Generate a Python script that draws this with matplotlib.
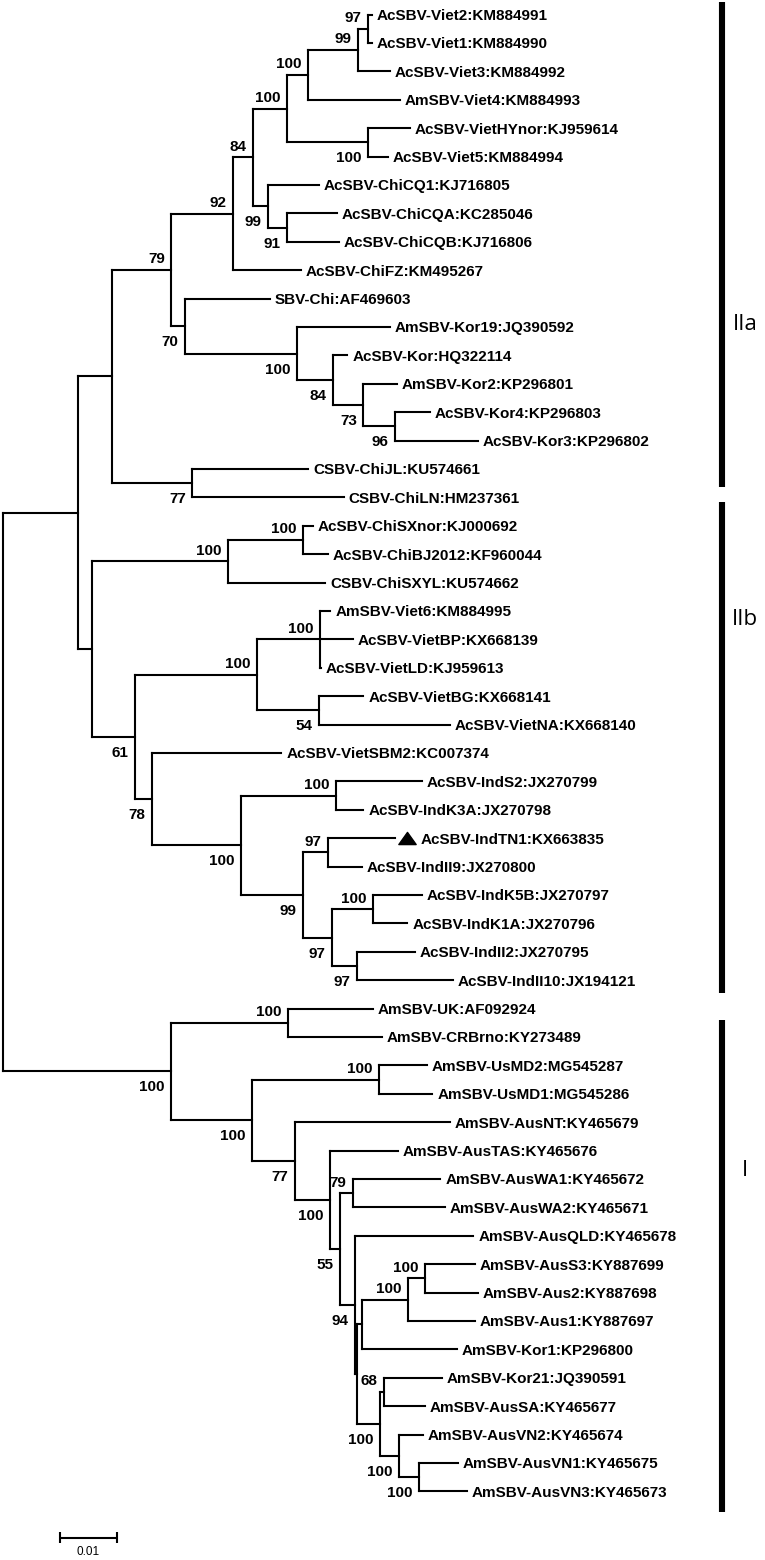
import matplotlib
matplotlib.use("Agg")
import matplotlib.pyplot as plt
from matplotlib.path import Path
from matplotlib.transforms import offset_copy

# ---------------- data ----------------
taxa = [
    "AcSBV-Viet2:KM884991", "AcSBV-Viet1:KM884990", "AcSBV-Viet3:KM884992",
    "AmSBV-Viet4:KM884993", "AcSBV-VietHYnor:KJ959614", "AcSBV-Viet5:KM884994",
    "AcSBV-ChiCQ1:KJ716805", "AcSBV-ChiCQA:KC285046", "AcSBV-ChiCQB:KJ716806",
    "AcSBV-ChiFZ:KM495267", "SBV-Chi:AF469603", "AmSBV-Kor19:JQ390592",
    "AcSBV-Kor:HQ322114", "AmSBV-Kor2:KP296801", "AcSBV-Kor4:KP296803",
    "AcSBV-Kor3:KP296802", "CSBV-ChiJL:KU574661", "CSBV-ChiLN:HM237361",
    "AcSBV-ChiSXnor:KJ000692", "AcSBV-ChiBJ2012:KF960044", "CSBV-ChiSXYL:KU574662",
    "AmSBV-Viet6:KM884995", "AcSBV-VietBP:KX668139", "AcSBV-VietLD:KJ959613",
    "AcSBV-VietBG:KX668141", "AcSBV-VietNA:KX668140", "AcSBV-VietSBM2:KC007374",
    "AcSBV-IndS2:JX270799", "AcSBV-IndK3A:JX270798", "AcSBV-IndTN1:KX663835",
    "AcSBV-IndII9:JX270800", "AcSBV-IndK5B:JX270797", "AcSBV-IndK1A:JX270796",
    "AcSBV-IndII2:JX270795", "AcSBV-IndII10:JX194121", "AmSBV-UK:AF092924",
    "AmSBV-CRBrno:KY273489", "AmSBV-UsMD2:MG545287", "AmSBV-UsMD1:MG545286",
    "AmSBV-AusNT:KY465679", "AmSBV-AusTAS:KY465676", "AmSBV-AusWA1:KY465672",
    "AmSBV-AusWA2:KY465671", "AmSBV-AusQLD:KY465678", "AmSBV-AusS3:KY887699",
    "AmSBV-Aus2:KY887698", "AmSBV-Aus1:KY887697", "AmSBV-Kor1:KP296800",
    "AmSBV-Kor21:JQ390591", "AmSBV-AusSA:KY465677", "AmSBV-AusVN2:KY465674",
    "AmSBV-AusVN1:KY465675", "AmSBV-AusVN3:KY465673",
]

# distance of each tip from the root (substitutions/site)
tip_depth = [
    0.0647, 0.0647, 0.0679, 0.0696, 0.0714, 0.0675, 0.0554, 0.0586, 0.0589,
    0.0523, 0.0468, 0.0679, 0.0604, 0.0691, 0.0749, 0.0833, 0.0535, 0.0598,
    0.0544, 0.0570, 0.0565, 0.0574, 0.0614, 0.0558, 0.0632, 0.0784, 0.0488,
    0.0735, 0.0632, 0.0688, 0.0630, 0.0735, 0.0709, 0.0723, 0.0789, 0.0649,
    0.0665, 0.0744, 0.0753, 0.0784, 0.0693, 0.0767, 0.0775, 0.0825, 0.0828,
    0.0833, 0.0828, 0.0796, 0.0770, 0.0740, 0.0737, 0.0798, 0.0814,
]

# internal nodes: id, children (int = tip index, str = node id), depth, bootstrap
node_ids = [
    "root", "II", "IIa", "n79", "n92", "n84", "n100c", "n100a", "n99", "n97",
    "n100b", "n99b", "n91", "n70", "n100d", "n84b", "n73", "n96", "n77",
    "IIb", "nSX", "nSX2", "n61", "nViet", "nViet6", "n54", "n78", "nInd", "nS2",
    "nInd2", "nTN", "nInd3", "nK5B", "nII2",
    "I", "nUK", "nI2", "nUS", "n77b", "n100e", "n55", "n79b", "n94", "nB",
    "nKor1", "nAus1", "nS3", "n380", "n68", "n399", "n419",
]
node_children = [
    ["II", "I"], ["IIa", "IIb"], ["n79", "n77"], ["n92", "n70"], ["n84", 9],
    ["n100c", "n99b"], ["n100a", "n100b"], ["n99", 3], ["n97", 2], [0, 1],
    [4, 5], [6, "n91"], [7, 8], [10, "n100d"], [11, "n84b"], [12, "n73"],
    [13, "n96"], [14, 15], [16, 17],
    ["nSX", "n61"], ["nSX2", 20], [18, 19], ["nViet", "n78"], ["nViet6", "n54"],
    [21, 22, 23], [24, 25], [26, "nInd"], ["nS2", "nInd2"], [27, 28],
    ["nTN", "nInd3"], [29, 30], ["nK5B", "nII2"], [31, 32], [33, 34],
    ["nUK", "nI2"], [35, 36], ["nUS", "n77b"], [37, 38], [39, "n100e"],
    [40, "n55"], ["n79b", "n94"], [41, 42], [43, "nB"], ["nKor1", "n380"],
    ["nAus1", 47], ["nS3", 46], [44, 45], ["n68", "n399"], [48, 49],
    [50, "n419"], [51, 52],
]
node_depth = [
    0.0, 0.0132, 0.0191, 0.0295, 0.0404, 0.0439, 0.0498, 0.0535, 0.0623, 0.0640,
    0.0640, 0.0465, 0.0498, 0.0319, 0.0516, 0.0579, 0.0632, 0.0688, 0.0332,
    0.0156, 0.0395, 0.0526, 0.0232, 0.0446, 0.0556, 0.0554, 0.0261, 0.0418, 0.0584,
    0.0526, 0.0570, 0.0577, 0.0649, 0.0621,
    0.0295, 0.0500, 0.0437, 0.0660, 0.0512, 0.0574, 0.0591, 0.0614, 0.0618, 0.0621,
    0.0630, 0.0711, 0.0740, 0.0661, 0.0668, 0.0695, 0.0730,
]
node_support = [
    None, None, None, 79, 92, 84, 100, 100, 99, 97,
    100, 99, 91, 70, 100, 84, 73, 96, 77,
    None, 100, 100, 61, 100, 100, 54, 78, 100, 100,
    99, 97, 97, 100, 97,
    100, 100, 100, 100, 77, 100, 55, 79, 94, None,
    None, 100, 100, 100, 68, 100, 100,
]

marked_taxa = ["AcSBV-IndTN1:KX663835"]

clade_labels = ["IIa", "IIb", "I"]
clade_span = [(-0.44, 16.64), (17.17, 34.45), (35.4, 52.73)]
clade_label_row = [10.93, 21.32, 40.7]

scale_length = 0.01
scale_label = "0.01"

# ---------------- drawing ----------------
W, H, DPI = 7.65, 15.6, 100
PX_PER_UNIT = 5700.0      # horizontal pixels per substitution unit
ROOT_PX = 3.0
ROW_PX = 28.4
TOP_PX = 14.5

fig = plt.figure(figsize=(W, H), dpi=DPI)
ax = fig.add_axes([0, 0, 1, 1])
ax.axis("off")
ax.set_xlim(-ROOT_PX / PX_PER_UNIT, (W * DPI - ROOT_PX) / PX_PER_UNIT)
ax.set_ylim((H * DPI - TOP_PX) / ROW_PX, -TOP_PX / ROW_PX)

idx = {n: i for i, n in enumerate(node_ids)}


def ypos(ref):
    if isinstance(ref, int):
        return float(ref)
    ch = node_children[idx[ref]]
    return (ypos(ch[0]) + ypos(ch[-1])) / 2.0


def xpos(ref):
    if isinstance(ref, int):
        return tip_depth[ref]
    return node_depth[idx[ref]]


LW = 1.5
FONT = "Liberation Sans"
kw_line = dict(color="black", lw=LW, solid_capstyle="projecting")

parent_of = {}
for nid, ch in zip(node_ids, node_children):
    for k, c in enumerate(ch):
        parent_of[c] = (nid, k, len(ch))

# branches
for nid, ch in zip(node_ids, node_children):
    x0 = xpos(nid)
    ys = [ypos(c) for c in ch]
    ax.plot([x0, x0], [ys[0], ys[-1]], **kw_line)
    for c, yc in zip(ch, ys):
        ax.plot([x0, xpos(c)], [yc, yc], **kw_line)

# bootstrap values
for nid, sup in zip(node_ids, node_support):
    if sup is None or nid not in parent_of:
        continue
    _, k, n = parent_of[nid]
    upper = (k == 0)
    dy = 4.7 if upper else -14.4
    ax.annotate(str(sup), (xpos(nid), ypos(nid)), xytext=(-4.6, dy),
                textcoords="offset points", ha="right", va="baseline",
                fontsize=11, fontweight="bold", family=FONT)

# tip labels (+ marker)
tri = Path([(-1.0, -0.7), (1.0, -0.7), (0.0, 0.7), (-1.0, -0.7)],
           [Path.MOVETO, Path.LINETO, Path.LINETO, Path.CLOSEPOLY])
marker_tr = offset_copy(ax.transData, fig=fig, x=8.6, y=0, units="points")
for i, name in enumerate(taxa):
    xt = tip_depth[i]
    off = 3.6
    if name in marked_taxa:
        ax.plot([xt], [i], linestyle="none", marker=tri, markersize=12.5,
                color="black", transform=marker_tr)
        off = 18.5
    ax.annotate(name, (xt, i), xytext=(off, -4.0), textcoords="offset points",
                ha="left", va="baseline", fontsize=11, fontweight="bold",
                family=FONT)

# clade bars
BAR_X = 719 / PX_PER_UNIT
LAB_X = 742 / PX_PER_UNIT
for lab, (y0, y1), yl in zip(clade_labels, clade_span, clade_label_row):
    ax.plot([BAR_X, BAR_X], [y0, y1], color="black", lw=4.4,
            solid_capstyle="butt")
    ax.text(LAB_X, yl, lab, ha="center", va="center", fontsize=16,
            family="Open Sans")

# scale bar
SB_X0 = 57 / PX_PER_UNIT
SB_Y = 53.64
ax.plot([SB_X0, SB_X0 + scale_length], [SB_Y, SB_Y], color="black", lw=1.5,
        solid_capstyle="butt")
for xx in (SB_X0, SB_X0 + scale_length):
    ax.plot([xx, xx], [SB_Y - 0.19, SB_Y + 0.19], color="black", lw=1.5,
            solid_capstyle="butt")
ax.text(SB_X0 + scale_length / 2, SB_Y + 0.5, scale_label, ha="center",
        va="center", fontsize=8.5, family=FONT)

fig.savefig("out.png", dpi=DPI)
